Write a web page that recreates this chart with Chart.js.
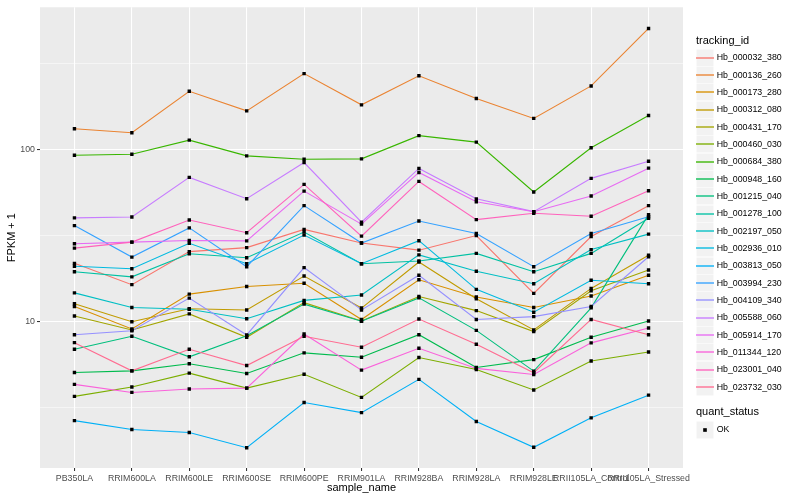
<!DOCTYPE html>
<html><head><meta charset="utf-8">
<script src="https://cdn.jsdelivr.net/npm/chart.js@4/dist/chart.umd.min.js"></script>
<style>
html,body{margin:0;padding:0;background:#fff;}
#wrap{position:relative;width:800px;height:500px;font-family:"Liberation Sans",Arial,sans-serif;overflow:hidden;}
#c{position:absolute;left:0;top:0;}
.ttl{position:absolute;font-size:11px;color:#000;line-height:13px;white-space:nowrap;}
.key{position:absolute;width:17.3px;height:17.3px;}
.key svg{position:absolute;left:0;top:0;display:block;}
.lab{position:absolute;font-size:8.8px;color:#000;line-height:10px;white-space:nowrap;}
</style></head>
<body><div id="wrap"><canvas id="c" width="800" height="500"></canvas><div id="legend"></div></div>
<script>
const categories = ["PB350LA","RRIM600LA","RRIM600LE","RRIM600SE","RRIM600PE","RRIM901LA","RRIM928BA","RRIM928LA","RRIM928LE","RRII105LA_Control","RRII105LA_Stressed"];
const trackingIds = ["Hb_000032_380","Hb_000136_260","Hb_000173_280","Hb_000312_080","Hb_000431_170","Hb_000460_030","Hb_000684_380","Hb_000948_160","Hb_001215_040","Hb_001278_100","Hb_002197_050","Hb_002936_010","Hb_003813_050","Hb_003994_230","Hb_004109_340","Hb_005588_060","Hb_005914_170","Hb_011344_120","Hb_023001_040","Hb_023732_030"];
const seriesColors = ["#F8766D","#EA8331","#D89000","#C09B00","#A3A500","#7CAE00","#39B600","#00BB4E","#00BF7D","#00C1A3","#00BFC4","#00BAE0","#00B0F6","#35A2FF","#9590FF","#C77CFF","#E76BF3","#FA62DB","#FF62BC","#FF6C91"];

const hb_000032_380 = [21.8, 16.4, 25.5, 26.9, 34.3, 28.6, 26.0, 31.6, 14.6, 31.2, 47.1];
const hb_000136_260 = [131.6, 124.8, 217, 167, 274.6, 181, 267, 197, 151, 233, 502];
const hb_000173_280 = [12.25, 9.08, 14.45, 16.0, 16.7, 10.3, 17.5, 13.9, 12.1, 14.1, 18.6];
const hb_000312_080 = [12.7, 10.0, 11.9, 11.7, 18.4, 12.0, 22.2, 13.6, 8.96, 15.6, 24.3];
const hb_000431_170 = [10.8, 8.96, 11.1, 8.12, 12.9, 10.1, 14.0, 11.6, 8.76, 15.1, 19.95];
const hb_000460_030 = [3.69, 4.18, 5.03, 4.12, 4.96, 3.64, 6.2, 5.28, 4.02, 5.92, 6.67];
const hb_000684_380 = [92.3, 93.6, 113, 91.6, 87.5, 88, 120, 110, 56.5, 102, 157];
const hb_000948_160 = [5.08, 5.19, 5.70, 5.01, 6.6, 6.22, 8.41, 5.43, 6.03, 8.12, 10.1];
const hb_001215_040 = [6.92, 8.23, 6.26, 8.3, 12.65, 10.07, 13.75, 8.91, 5.17, 12.04, 41.8];
const hb_001278_100 = [19.5, 18.2, 24.8, 23.5, 33.1, 21.7, 22.5, 24.9, 19.5, 24.9, 39.8];
const hb_002197_050 = [14.7, 12.1, 11.8, 10.4, 13.3, 14.3, 24.4, 19.6, 16.6, 26.2, 32.2];
const hb_002936_010 = [20.96, 20.3, 28.5, 21.7, 31.8, 21.7, 29.5, 15.4, 11.35, 17.4, 16.6];
const hb_003813_050 = [2.67, 2.37, 2.28, 1.86, 3.40, 2.97, 4.63, 2.64, 1.87, 2.77, 3.75];
const hb_003994_230 = [36.1, 23.7, 35.0, 20.85, 47.1, 28.6, 38.4, 32.5, 20.85, 32.5, 40.6];
const hb_004109_340 = [8.41, 8.87, 13.7, 8.38, 20.6, 11.7, 18.6, 10.3, 10.7, 12.25, 23.8];
const hb_005588_060 = [40, 40.5, 68.7, 51.7, 83.8, 37.8, 77.4, 51.6, 43.5, 67.8, 85.3];
const hb_005914_170 = [28.3, 28.95, 29.6, 29.45, 57.2, 36.8, 73.4, 49.6, 43.4, 53.6, 77.7];
const hb_011344_120 = [4.33, 3.89, 4.07, 4.12, 8.49, 5.24, 7.01, 5.36, 4.94, 7.54, 9.2];
const hb_023001_040 = [26.7, 28.95, 38.9, 32.8, 62.6, 31.35, 65.1, 39.1, 42.6, 40.9, 57.5];
const hb_023732_030 = [7.56, 5.19, 6.92, 5.57, 8.23, 7.11, 10.36, 7.4, 5.06, 10.31, 8.41];

const seriesValues = [hb_000032_380, hb_000136_260, hb_000173_280, hb_000312_080, hb_000431_170, hb_000460_030, hb_000684_380, hb_000948_160, hb_001215_040, hb_001278_100, hb_002197_050, hb_002936_010, hb_003813_050, hb_003994_230, hb_004109_340, hb_005588_060, hb_005914_170, hb_011344_120, hb_023001_040, hb_023732_030];

const yTickValues = [3.1623, 10, 31.623, 100, 316.23];
const yTickLabels = ["", "10", "", "100", ""];
const quantStatus = ["OK"];

const FONT = '"Liberation Sans", Arial, sans-serif';

const panelBg = {
  id: 'panelBg',
  beforeDraw(chart) {
    const {ctx, chartArea: a} = chart;
    ctx.save();
    ctx.fillStyle = '#EBEBEB';
    ctx.fillRect(a.left, a.top, a.right - a.left, a.bottom - a.top);
    ctx.restore();
  }
};

const lineSets = seriesValues.map((vals, i) => ({
  label: trackingIds[i],
  data: vals.map((v, j) => ({x: j, y: v})),
  borderColor: seriesColors[i],
  backgroundColor: seriesColors[i],
  borderWidth: 1.1,
  pointRadius: 0,
  fill: false,
  tension: 0,
  order: 100 - i
}));
const pointSets = seriesValues.map((vals, i) => ({
  label: trackingIds[i] + ' ' + quantStatus[0],
  data: vals.map((v, j) => ({x: j, y: v})),
  showLine: false,
  pointStyle: 'rect',
  pointRadius: 2.4,
  pointBackgroundColor: '#000',
  pointBorderColor: '#000',
  pointBorderWidth: 0,
  order: 0
}));

new Chart(document.getElementById('c'), {
  type: 'line',
  data: { datasets: lineSets.concat(pointSets) },
  options: {
    responsive: false,
    animation: false,
    events: [],
    layout: { padding: { left: 0, right: 117, top: 5, bottom: 0 } },
    plugins: { legend: { display: false }, tooltip: { enabled: false } },
    scales: {
      x: {
        type: 'linear',
        min: -0.6,
        max: categories.length - 0.4,
        afterBuildTicks: s => { s.ticks = categories.map((c, i) => ({value: i})); },
        afterFit: s => { s.height = 32; },
        ticks: { autoSkip: false, maxRotation: 0, minRotation: 0, padding: 2, color: '#4D4D4D',
                 font: { family: FONT, size: 8.8 }, callback: v => categories[v] },
        grid: { color: '#FFFFFF', lineWidth: 1.07, tickColor: '#333333', tickLength: 3, tickWidth: 1.07 },
        border: { display: false },
        title: { display: true, text: 'sample_name', color: '#000', font: { family: FONT, size: 11 }, padding: { top: 0, bottom: 5.1 } }
      },
      y: {
        type: 'logarithmic',
        min: 1.418,
        max: 666,
        afterBuildTicks: s => { s.ticks = yTickValues.map(v => ({value: v})); },
        afterFit: s => { s.width = 40; },
        ticks: { color: '#4D4D4D', padding: 2, font: { family: FONT, size: 8.8 },
                 callback: (v, i) => yTickLabels[i] },
        grid: {
          color: '#FFFFFF',
          lineWidth: c => (yTickLabels[c.index] ? 1.07 : 0.53),
          tickColor: c => (yTickLabels[c.index] ? '#333333' : 'rgba(0,0,0,0)'),
          tickLength: 3, tickWidth: 1.07
        },
        border: { display: false },
        title: { display: true, text: 'FPKM + 1', color: '#000', font: { family: FONT, size: 11 }, padding: { top: 5.4, bottom: 0 } }
      }
    }
  },
  plugins: [panelBg]
});

// legend (HTML text, SVG keys)
const lg = document.getElementById('legend');
function add(html) { lg.insertAdjacentHTML('beforeend', html); }
function keyBox(inner) {
  return '<svg width="18" height="18" viewBox="0 0 17.3 17.3"><rect x="0" y="0" width="17.3" height="17.3" fill="#F2F2F2" stroke="#FFFFFF" stroke-width="1"/>' + inner + '</svg>';
}
add('<div class="ttl" style="left:696px;top:33.5px">tracking_id</div>');
trackingIds.forEach((id, i) => {
  const cy = 57.3 + i * 17.33;
  add('<div class="key" style="left:696.4px;top:' + (cy - 8.65).toFixed(2) + 'px">' +
      keyBox('<line x1="0" y1="8.65" x2="17.3" y2="8.65" stroke="' + seriesColors[i] + '" stroke-width="1.3"/>') + '</div>');
  add('<div class="lab" style="left:716.7px;top:' + (cy - 5).toFixed(2) + 'px">' + id + '</div>');
});
add('<div class="ttl" style="left:696px;top:405.3px">quant_status</div>');
quantStatus.forEach((q, i) => {
  const cy = 429.3 + i * 17.33;
  add('<div class="key" style="left:696.4px;top:' + (cy - 8.65).toFixed(2) + 'px">' +
      keyBox('<rect x="6.9" y="6.9" width="3.5" height="3.5" fill="#000"/>') + '</div>');
  add('<div class="lab" style="left:716.7px;top:' + (cy - 5).toFixed(2) + 'px">' + q + '</div>');
});
</script>
</body></html>
